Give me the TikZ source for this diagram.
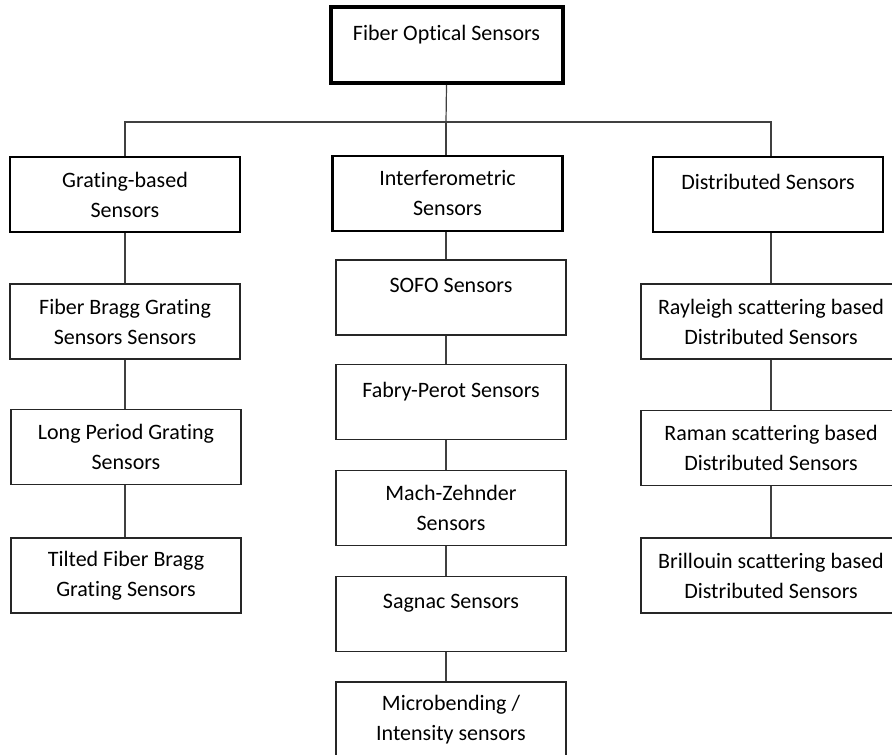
\documentclass[tikz,border=0pt]{standalone}
\usepackage{fontspec}
\setmainfont{Carlito}[Ligatures=CommonOff]
\begin{document}
\begin{tikzpicture}[x=0.5pt, y=-0.5pt,
    leafbox/.style={draw=black!85, line width=0.7pt, rectangle, minimum width=115pt, minimum height=37.5pt, align=center, inner sep=0pt, font=\fontsize{11}{15}\selectfont},
    groupbox/.style={leafbox, draw=black, line width=1.2pt},
    rootbox/.style={leafbox, draw=black, line width=2pt, minimum width=116pt, minimum height=38pt},
    link/.style={draw=black!75, line width=0.6pt}]
  \useasboundingbox (0,0) rectangle (892,754);

  % Root
  \node[rootbox] (root) at (446.5, 45) {Fiber Optical Sensors\\[-7pt] \strut};
  \coordinate (bus) at (446, 122);

  % Sensor groups
  \node[groupbox] (grat) at (125, 194.5) {Grating-based\\Sensors};
  \node[groupbox] (inter) at (447.5, 193.5) {Interferometric\\Sensors};
  \node[groupbox] (dist) at (768, 194.5) {Distributed Sensors\\[-7pt] \strut};

  % Grating-based
  \node[leafbox] (fbg) at (125, 321.5) {Fiber Bragg Grating\\Sensors Sensors};
  \node[leafbox] (lpg) at (126, 447) {Long Period Grating\\Sensors};
  \node[leafbox] (tfbg) at (126, 575.5) {Tilted Fiber Bragg\\Grating Sensors};

  % Interferometric
  \node[leafbox] (sofo) at (451, 297.5) {SOFO Sensors\\[-7pt] \strut};
  \node[leafbox] (fp) at (451, 402) {Fabry-Perot Sensors\\[-7pt] \strut};
  \node[leafbox] (mz) at (451, 508) {Mach-Zehnder\\Sensors};
  \node[leafbox] (sag) at (451, 614) {Sagnac Sensors\\[-7pt] \strut};
  \node[leafbox] (micro) at (451, 719.5) {Microbending /\\Intensity sensors};

  % Distributed
  \node[leafbox, minimum width=130pt] (ray) at (771, 321.5) {Rayleigh scattering based\\Distributed Sensors};
  \node[leafbox, minimum width=130pt] (raman) at (771, 448) {Raman scattering based\\Distributed Sensors};
  \node[leafbox, minimum width=130pt] (bril) at (771, 575.5) {Brillouin scattering based\\Distributed Sensors};

  % Links
  \draw[link] (root.south) -- (bus);
  \draw[link] (grat.north) |- (bus) -| (ray.north |- dist.north);
  \draw[link] (bus) -- (bus |- inter.north);
  \draw[link] (grat.south) -- (fbg.north);
  \draw[link] (fbg.south) -- (lpg.north -| fbg.south);
  \draw[link] (lpg.south -| fbg.south) -- (tfbg.north -| fbg.south);
  \draw[link] (inter.south -| bus) -- (sofo.north -| bus);
  \draw[link] (sofo.south -| bus) -- (fp.north -| bus);
  \draw[link] (fp.south -| bus) -- (mz.north -| bus);
  \draw[link] (mz.south -| bus) -- (sag.north -| bus);
  \draw[link] (sag.south -| bus) -- (micro.north -| bus);
  \draw[link] (ray.north |- dist.south) -- (ray.north);
  \draw[link] (ray.south) -- (raman.north);
  \draw[link] (raman.south) -- (bril.north);
\end{tikzpicture}
\end{document}
